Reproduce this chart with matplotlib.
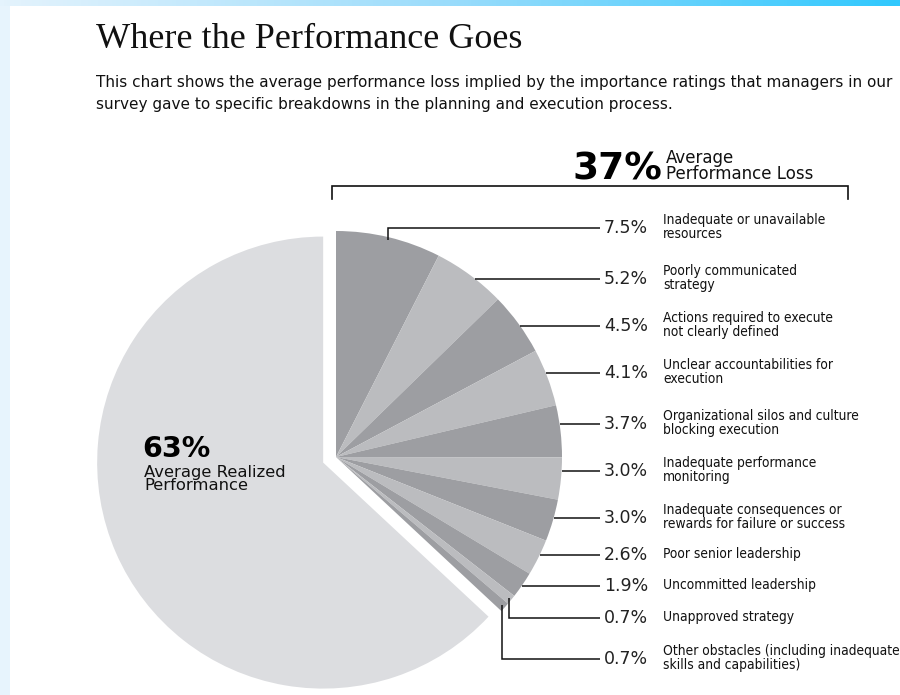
import matplotlib
matplotlib.use("Agg")
import matplotlib.pyplot as plt
import numpy as np
from matplotlib.colors import LinearSegmentedColormap

# ---------------- data ----------------
title = "Where the Performance Goes"
subtitle = ["This chart shows the average performance loss implied by the importance ratings that managers in our",
            "survey gave to specific breakdowns in the planning and execution process."]
loss_labels = ["Inadequate or unavailable\nresources",
               "Poorly communicated\nstrategy",
               "Actions required to execute\nnot clearly defined",
               "Unclear accountabilities for\nexecution",
               "Organizational silos and culture\nblocking execution",
               "Inadequate performance\nmonitoring",
               "Inadequate consequences or\nrewards for failure or success",
               "Poor senior leadership",
               "Uncommitted leadership",
               "Unapproved strategy",
               "Other obstacles (including inadequate\nskills and capabilities)"]
loss_values = [7.5, 5.2, 4.5, 4.1, 3.7, 3.0, 3.0, 2.6, 1.9, 0.7, 0.7]
realized_value = 63
loss_total = 37
realized_caption = "Average Realized\nPerformance"
loss_caption = "Average\nPerformance Loss"

# ---------------- layout (image pixel coords, y down) ----------------
W, H = 900, 695
PIE_C = (336, 457)
PIE_R = 226
EXPLODE_PX = 14
label_y = [228, 279, 326, 373, 424, 471, 518, 555, 586, 618, 659]
LINE_END = 600
PCT_X = 604
LAB_X = 663

DARK = "#9d9ea2"
LIGHT = "#bbbcbf"
BIG = "#dcdde0"

SANS = ["DejaVu Sans"]


def Y(y):
    return H - y


fig = plt.figure(figsize=(W / 100, H / 100), dpi=100)
fig.patch.set_facecolor("white")
ax = fig.add_axes([0, 0, 1, 1])

# background bands
grad = LinearSegmentedColormap.from_list("band", ["#e4f3fd", "#9adcfb", "#30c8fe"])
ax.imshow(np.linspace(0, 1, 256)[None, :], cmap=grad, extent=(0, W, Y(6), H),
          aspect="auto", zorder=0)
ax.add_patch(plt.Rectangle((0, 0), 10, Y(6), color="#e7f4fd", lw=0, zorder=0))

# pie
values = loss_values + [realized_value]
colors = [DARK if i % 2 == 0 else LIGHT for i in range(len(loss_values))] + [BIG]
explode = [0] * len(loss_values) + [EXPLODE_PX]   # data units (pixels here)
wedges, _ = ax.pie(values, colors=colors, startangle=90, counterclock=False,
                   explode=explode, center=(PIE_C[0], Y(PIE_C[1])), radius=PIE_R,
                   wedgeprops=dict(linewidth=0), frame=True)

# leaders + labels
for w, ly, val, lab in zip(wedges[:len(loss_values)], label_y, loss_values, loss_labels):
    cx, cy = w.center
    r = w.r
    t1, t2 = np.radians(w.theta1), np.radians(w.theta2)
    yl = Y(ly)
    ylo, yhi = cy + r * np.sin(t1), cy + r * np.sin(t2)
    if ylo <= yl <= yhi:
        x0 = cx + np.sqrt(r * r - (yl - cy) ** 2)
        ax.plot([x0, LINE_END], [yl, yl], color="#111111", lw=1.1, zorder=3,
                solid_capstyle="butt")
    else:
        tm = (t1 + t2) / 2
        xm, ym = cx + (r - 3) * np.cos(tm), cy + (r - 3) * np.sin(tm)
        ax.plot([xm, xm, LINE_END], [ym, yl, yl], color="#111111", lw=1.1, zorder=3,
                solid_capstyle="butt", solid_joinstyle="miter")
    ax.text(PCT_X, yl, f"{val:.1f}%", family=SANS, fontsize=12.5, color="#222222",
            va="center", ha="left")
    ax.text(LAB_X, yl + 1, lab, family=SANS, fontstretch="condensed", fontsize=9.9,
            color="#111111", va="center", ha="left", linespacing=1.0)

# bracket over loss slices
ax.plot([332, 332, 848, 848], [Y(199), Y(186), Y(186), Y(199)], color="#111111",
        lw=1.2, zorder=3, solid_joinstyle="miter")
ax.text(662, Y(180), f"{loss_total}%", family=SANS, fontsize=27, fontweight="bold",
        color="#000000", ha="right", va="baseline")
ax.text(666, Y(166), loss_caption, family=SANS, fontsize=12, color="#111111",
        ha="left", va="center", linespacing=0.8)

# realized caption
ax.text(142, Y(457), f"{realized_value}%", family=SANS, fontsize=20.5, fontweight="bold",
        color="#000000", ha="left", va="baseline")
ax.text(144, Y(479), realized_caption, family=SANS, fontsize=11.8, color="#111111",
        ha="left", va="center", linespacing=0.82)

# title and subtitle
fig.text(96 / W, 1 - 48 / H, title, family=["Liberation Serif", "DejaVu Serif"],
         fontsize=26, color="#111111", ha="left", va="baseline")
fig.text(96 / W, 1 - 83 / H, subtitle[0], family=SANS, fontsize=11, color="#111111",
         ha="left", va="center")
fig.text(96 / W, 1 - 104 / H, subtitle[1], family=SANS, fontsize=11, color="#111111",
         ha="left", va="center")

ax.set_xlim(0, W)
ax.set_ylim(0, H)
ax.set_aspect("equal")
ax.axis("off")

fig.savefig("out.png", dpi=100, facecolor="white")
